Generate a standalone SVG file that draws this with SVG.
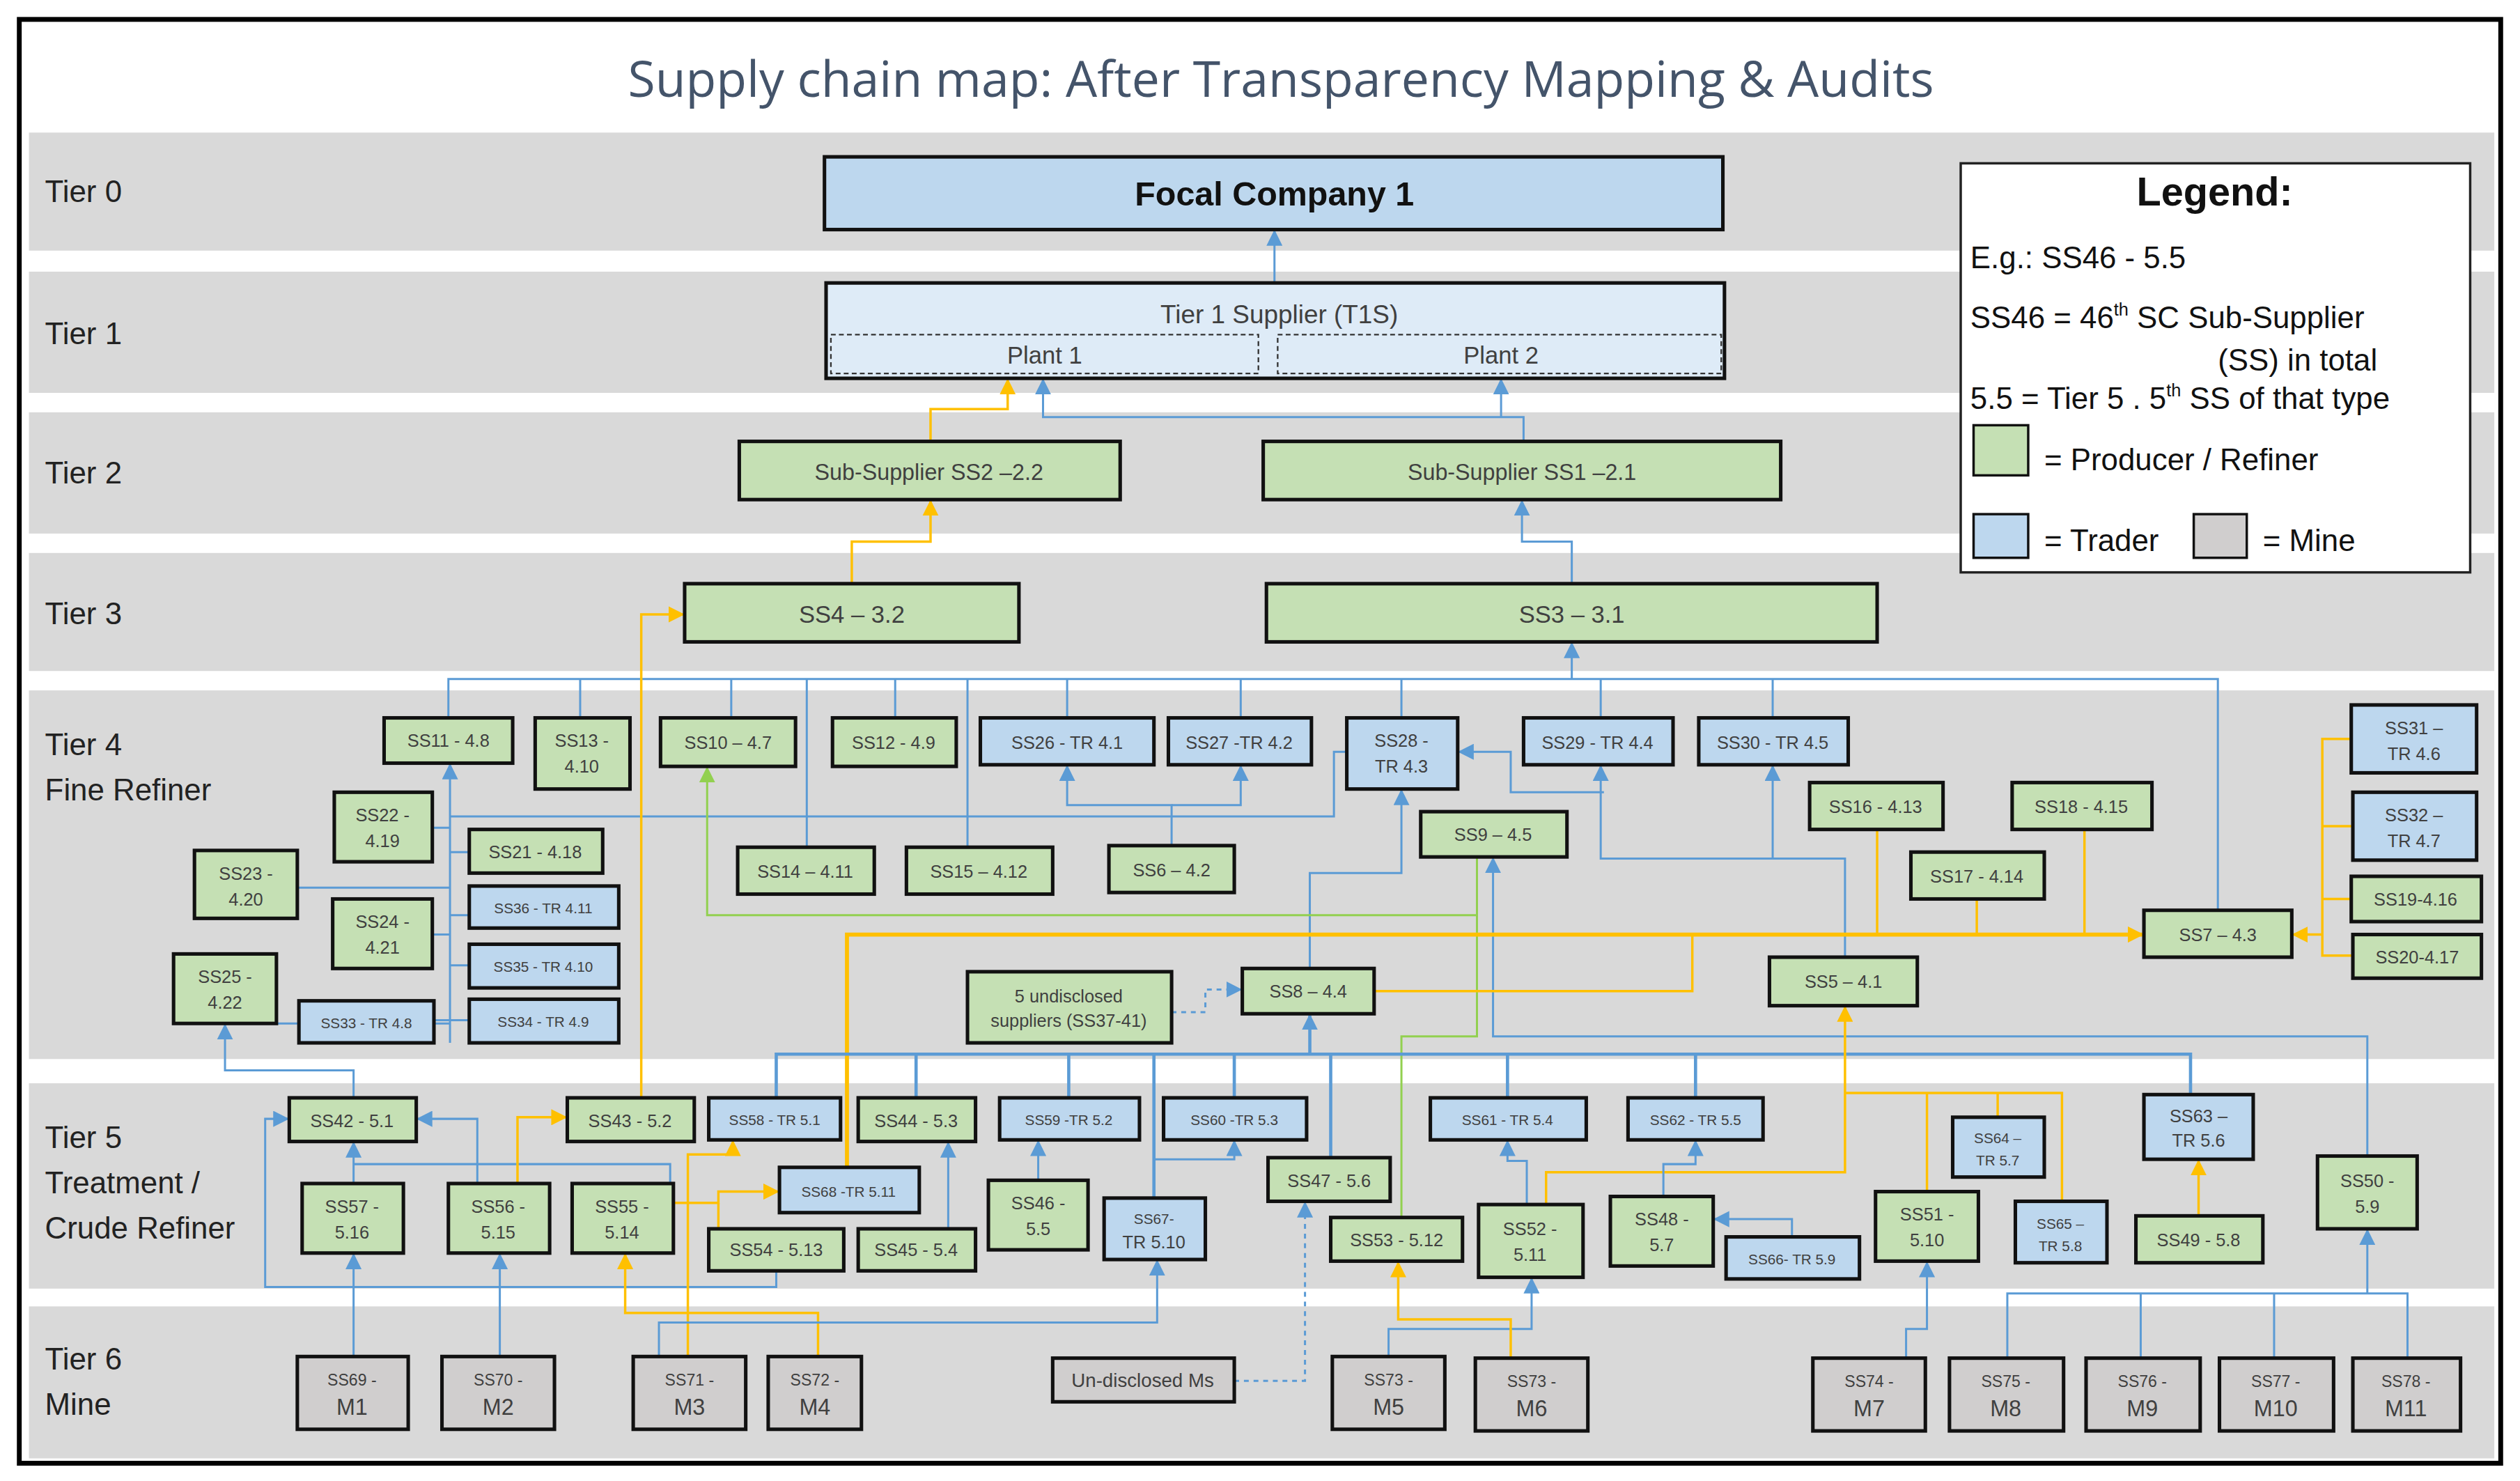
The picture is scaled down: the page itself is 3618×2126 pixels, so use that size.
<svg xmlns="http://www.w3.org/2000/svg" width="3618" height="2126" viewBox="0 0 3618 2126">
<style>
.band{fill:#D9D9D9}
.tl{font-family:"Liberation Sans",Arial,sans-serif;font-size:19px;fill:#222}
.g rect{fill:#C5E0B4;stroke:#111;stroke-width:2.2}
.b rect{fill:#BDD7EE;stroke:#111;stroke-width:2.2}
.m rect{fill:#D0CECE;stroke:#111;stroke-width:2.2}
.n text{font-family:"Liberation Sans",Arial,sans-serif;font-size:11px;fill:#404040;text-anchor:middle}
.s text{font-size:9px}
.m text .big{font-size:14px}
.cb{fill:none;stroke:#5B9BD5;stroke-width:1.3}
.cy{fill:none;stroke:#FFC000;stroke-width:1.5}
.cg{fill:none;stroke:#92D050;stroke-width:1.3}
.d{stroke-dasharray:3 3}
.lg{font-family:"Liberation Sans",Arial,sans-serif;font-size:19px;fill:#111}
</style>
<defs>
<marker id="ab" markerWidth="10" markerHeight="10" refX="9" refY="5" orient="auto" markerUnits="userSpaceOnUse"><path d="M0,0 L10,5 L0,10 Z" fill="#5B9BD5"/></marker>
<marker id="ay" markerWidth="10" markerHeight="10" refX="9" refY="5" orient="auto" markerUnits="userSpaceOnUse"><path d="M0,0 L10,5 L0,10 Z" fill="#FFC000"/></marker>
<marker id="ag" markerWidth="10" markerHeight="10" refX="9" refY="5" orient="auto" markerUnits="userSpaceOnUse"><path d="M0,0 L10,5 L0,10 Z" fill="#92D050"/></marker>
</defs>
<rect width="3618" height="2126" fill="#fff"/>
<g transform="scale(2.3074 2.3210)">
<rect x="12" y="12" width="1544" height="893" fill="#fff" stroke="#000" stroke-width="3"/>
<text x="797" y="60" text-anchor="middle" font-family="'Open Sans','Liberation Sans',sans-serif" font-size="31" fill="#44546A">Supply chain map: After Transparency Mapping &amp; Audits</text>
<g id="bands">
<rect class="band" x="18" y="82" width="1534" height="73"/>
<rect class="band" x="18" y="168" width="1534" height="75"/>
<rect class="band" x="18" y="255" width="1534" height="75"/>
<rect class="band" x="18" y="342" width="1534" height="73"/>
<rect class="band" x="18" y="427" width="1534" height="228"/>
<rect class="band" x="18" y="670" width="1534" height="127"/>
<rect class="band" x="18" y="808" width="1534" height="94"/>
<text class="tl" x="28" y="125">Tier 0</text>
<text class="tl" x="28" y="213">Tier 1</text>
<text class="tl" x="28" y="299">Tier 2</text>
<text class="tl" x="28" y="386">Tier 3</text>
<text class="tl" x="28" y="467">Tier 4</text>
<text class="tl" x="28" y="495">Fine Refiner</text>
<text class="tl" x="28" y="710">Tier 5</text>
<text class="tl" x="28" y="738">Treatment /</text>
<text class="tl" x="28" y="766">Crude Refiner</text>
<text class="tl" x="28" y="847">Tier 6</text>
<text class="tl" x="28" y="875">Mine</text>
</g>
<g id="connectors">
<path class="cb" d="M793,175 V143" marker-end="url(#ab)"/>
<path class="cy" d="M579,273 V253 H627 V235" marker-end="url(#ay)"/>
<path class="cb" d="M948,273 V258 H649 V235" marker-end="url(#ab)"/>
<path class="cb" d="M934,258 V235" marker-end="url(#ab)"/>
<path class="cy" d="M530,361 V335 H579 V310" marker-end="url(#ay)"/>
<path class="cb" d="M978,361 V335 H947 V310" marker-end="url(#ab)"/>
<path class="cb" d="M279,444 V420 H1380 V563"/>
<path class="cb" d="M978,420 V398" marker-end="url(#ab)"/>
<path class="cb" d="M361,420 V444 M455,420 V444 M502,420 V524 M557,420 V444 M602,420 V524 M664,420 V444 M772,420 V444 M872,420 V444 M996,420 V444 M1103,420 V444"/>
<path class="cb" d="M280,645 V473" marker-end="url(#ab)"/>
<path class="cb" d="M269,512 H280 M280,527 H292 M185,549 H280 M280,566 H292 M269,578 H280 M280,597 H292 M172,633 H280 M270,631 H292"/>
<path class="cb" d="M280,505 H830 V465 H838"/>
<path class="cb" d="M729,523 V498 H664 V474" marker-end="url(#ab)"/>
<path class="cb" d="M729,498 H772 V474" marker-end="url(#ab)"/>
<path class="cb" d="M815,599 V540 H872 V489" marker-end="url(#ab)"/>
<path class="cb" d="M998,490 H940 V465 H908" marker-end="url(#ab)"/>
<path class="cb" d="M1148,592 V531 H996 V474" marker-end="url(#ab)"/>
<path class="cb" d="M1103,531 V474" marker-end="url(#ab)"/>
<path class="cg" d="M919,530 V641 H872 V753"/>
<path class="cg" d="M919,566 H440 V475" marker-end="url(#ag)"/>
<path class="cb" d="M1473,715 V641 H929 V531" marker-end="url(#ab)"/>
<path class="cy" d="M527,722 V578 H1333" marker-end="url(#ay)" style="stroke-width:2.5"/>
<path class="cy" d="M855,613 H1053 V578 M1168,513 V578 M1230,556 V578 M1297,513 V578"/>
<path class="cy" d="M1463,457 H1445 V591 H1464 M1445,511 H1464 M1445,556 H1463"/>
<path class="cy" d="M1445,578 H1427" marker-end="url(#ay)"/>
<path class="cy" d="M399,679 V380 H425" marker-end="url(#ay)"/>
<path class="cb d" d="M729,626 H750 V612 H772" marker-end="url(#ab)"/>
<path class="cb" d="M483,679 V652 H1363 V677 M570,652 V679 M665,652 V679 M768,652 V679 M828,652 V716 M938,652 V679 M1055,652 V679 M718,652 V741" style="stroke-width:2"/>
<path class="cb" d="M815,652 V628" marker-end="url(#ab)" style="stroke-width:2"/>
<path class="cb" d="M718,717 H768 V706" marker-end="url(#ab)"/>
<path class="cb" d="M220,732 V707" marker-end="url(#ab)"/>
<path class="cb" d="M220,720 H417 V732"/>
<path class="cb" d="M297,732 V692 H260" marker-end="url(#ab)"/>
<path class="cy" d="M322,732 V691 H352" marker-end="url(#ay)"/>
<path class="cb" d="M483,786 V796 H165 V692 H179" marker-end="url(#ab)"/>
<path class="cb" d="M220,679 V662 H140 V634" marker-end="url(#ab)"/>
<path class="cy" d="M419,744 H447 V737 H484" marker-end="url(#ay)"/>
<path class="cy" d="M447,760 V744"/>
<path class="cy" d="M428,839 V714 H456 V706" marker-end="url(#ay)"/>
<path class="cy" d="M509,839 V812 H389 V776" marker-end="url(#ay)"/>
<path class="cb" d="M410,839 V818 H720 V780" marker-end="url(#ab)"/>
<path class="cb" d="M220,839 V776" marker-end="url(#ab)"/>
<path class="cb" d="M311,839 V776" marker-end="url(#ab)"/>
<path class="cb" d="M590,760 V707" marker-end="url(#ab)"/>
<path class="cb" d="M646,730 V706" marker-end="url(#ab)"/>
<path class="cb d" d="M768,854 H812 V744" marker-end="url(#ab)"/>
<path class="cb" d="M864,839 V822 H953 V791" marker-end="url(#ab)"/>
<path class="cy" d="M940,840 V816 H870 V781" marker-end="url(#ay)"/>
<path class="cb" d="M950,745 V718 H938 V706" marker-end="url(#ab)"/>
<path class="cy" d="M962,745 V725 H1148 V623" marker-end="url(#ay)"/>
<path class="cy" d="M1148,676 H1283 V743 M1199,676 V737 M1243,676 V691"/>
<path class="cb" d="M1035,740 V720 H1055 V706" marker-end="url(#ab)"/>
<path class="cb" d="M1115,765 V754 H1067" marker-end="url(#ab)"/>
<path class="cy" d="M1368,752 V718" marker-end="url(#ay)"/>
<path class="cb" d="M1186,840 V822 H1199 V781" marker-end="url(#ab)"/>
<path class="cb" d="M1249,840 V800 H1498 V840 M1332,800 V840 M1415,800 V840"/>
<path class="cb" d="M1473,800 V761" marker-end="url(#ab)"/>
</g>
<g id="focal" class="n b"><rect x="513" y="97" width="559" height="45"/><text x="793" y="127" style="font-size:21px;font-weight:bold;fill:#111">Focal Company 1</text></g>
<g id="t1s" class="n"><rect x="514" y="175" width="559" height="59" fill="#DEEBF7" stroke="#111" stroke-width="2.2"/><text x="796" y="200" style="font-size:16px;fill:#404040">Tier 1 Supplier (T1S)</text>
<rect x="517" y="207" width="266" height="24" fill="none" stroke="#333" stroke-width="1" stroke-dasharray="3 2"/><rect x="795" y="207" width="276" height="24" fill="none" stroke="#333" stroke-width="1" stroke-dasharray="3 2"/>
<text x="650" y="225" style="font-size:15px">Plant 1</text><text x="934" y="225" style="font-size:15px">Plant 2</text></g>
<g id="ss2" class="n g"><rect x="460" y="273" width="237" height="36"/><text x="578" y="297" style="font-size:14px">Sub-Supplier SS2 –2.2</text></g>
<g id="ss1" class="n g"><rect x="786" y="273" width="322" height="36"/><text x="947" y="297" style="font-size:14px">Sub-Supplier SS1 –2.1</text></g>
<g id="ss4" class="n g"><rect x="426" y="361" width="208" height="36"/><text x="530" y="385" style="font-size:15px">SS4 – 3.2</text></g>
<g id="ss3" class="n g"><rect x="788" y="361" width="380" height="36"/><text x="978" y="385" style="font-size:15px">SS3 – 3.1</text></g>
<g id="ss11" class="n g"><rect x="239" y="444" width="80" height="28"/><text x="279" y="462">SS11 - 4.8</text></g>
<g id="ss13" class="n g"><rect x="333" y="444" width="59" height="44"/><text x="362" y="462">SS13 -</text><text x="362" y="478">4.10</text></g>
<g id="ss10" class="n g"><rect x="411" y="444" width="84" height="30"/><text x="453" y="463">SS10 – 4.7</text></g>
<g id="ss12" class="n g"><rect x="518" y="444" width="77" height="30"/><text x="556" y="463">SS12 - 4.9</text></g>
<g id="ss26" class="n b"><rect x="610" y="444" width="108" height="29"/><text x="664" y="463">SS26 - TR 4.1</text></g>
<g id="ss27" class="n b"><rect x="727" y="444" width="89" height="29"/><text x="771" y="463">SS27 -TR 4.2</text></g>
<g id="ss28" class="n b"><rect x="838" y="444" width="69" height="44"/><text x="872" y="462">SS28 -</text><text x="872" y="478">TR 4.3</text></g>
<g id="ss29" class="n b"><rect x="948" y="444" width="93" height="29"/><text x="994" y="463">SS29 - TR 4.4</text></g>
<g id="ss30" class="n b"><rect x="1057" y="444" width="93" height="29"/><text x="1103" y="463">SS30 - TR 4.5</text></g>
<g id="ss22" class="n g"><rect x="208" y="490" width="61" height="43"/><text x="238" y="508">SS22 -</text><text x="238" y="524">4.19</text></g>
<g id="ss21" class="n g"><rect x="292" y="513" width="83" height="27"/><text x="333" y="531">SS21 - 4.18</text></g>
<g id="ss23" class="n g"><rect x="121" y="526" width="64" height="42"/><text x="153" y="544">SS23 -</text><text x="153" y="560">4.20</text></g>
<g id="ss36" class="n b s"><rect x="292" y="548" width="93" height="26"/><text x="338" y="565">SS36 - TR 4.11</text></g>
<g id="ss24" class="n g"><rect x="207" y="556" width="62" height="43"/><text x="238" y="574">SS24 -</text><text x="238" y="590">4.21</text></g>
<g id="ss35" class="n b s"><rect x="292" y="584" width="93" height="27"/><text x="338" y="601">SS35 - TR 4.10</text></g>
<g id="ss25" class="n g"><rect x="108" y="590" width="64" height="43"/><text x="140" y="608">SS25 -</text><text x="140" y="624">4.22</text></g>
<g id="ss33" class="n b s"><rect x="186" y="619" width="84" height="26"/><text x="228" y="636">SS33 - TR 4.8</text></g>
<g id="ss34" class="n b s"><rect x="292" y="618" width="93" height="27"/><text x="338" y="635">SS34 - TR 4.9</text></g>
<g id="ss14" class="n g"><rect x="459" y="524" width="85" height="29"/><text x="501" y="543">SS14 – 4.11</text></g>
<g id="ss15" class="n g"><rect x="564" y="524" width="91" height="29"/><text x="609" y="543">SS15 – 4.12</text></g>
<g id="ss6" class="n g"><rect x="690" y="523" width="78" height="29"/><text x="729" y="542">SS6 – 4.2</text></g>
<g id="ss9" class="n g"><rect x="884" y="502" width="91" height="28"/><text x="929" y="520">SS9 – 4.5</text></g>
<g id="ss16" class="n g"><rect x="1126" y="484" width="83" height="29"/><text x="1167" y="503">SS16 - 4.13</text></g>
<g id="ss18" class="n g"><rect x="1252" y="484" width="87" height="29"/><text x="1295" y="503">SS18 - 4.15</text></g>
<g id="ss17" class="n g"><rect x="1189" y="527" width="83" height="29"/><text x="1230" y="546">SS17 - 4.14</text></g>
<g id="ss7" class="n g"><rect x="1334" y="563" width="92" height="29"/><text x="1380" y="582">SS7 – 4.3</text></g>
<g id="ss31" class="n b"><rect x="1463" y="436" width="78" height="42"/><text x="1502" y="454">SS31 –</text><text x="1502" y="470">TR 4.6</text></g>
<g id="ss32" class="n b"><rect x="1464" y="490" width="77" height="42"/><text x="1502" y="508">SS32 –</text><text x="1502" y="524">TR 4.7</text></g>
<g id="ss19" class="n g"><rect x="1463" y="542" width="81" height="28"/><text x="1503" y="560">SS19-4.16</text></g>
<g id="ss20" class="n g"><rect x="1464" y="578" width="80" height="27"/><text x="1504" y="596">SS20-4.17</text></g>
<g id="ss5" class="n g"><rect x="1101" y="592" width="92" height="30"/><text x="1147" y="611">SS5 – 4.1</text></g>
<g id="ss8" class="n g"><rect x="773" y="599" width="82" height="28"/><text x="814" y="617">SS8 – 4.4</text></g>
<g id="ss37" class="n g"><rect x="602" y="601" width="127" height="44"/><text x="665" y="620">5 undisclosed</text><text x="665" y="635">suppliers (SS37-41)</text></g>
<g id="ss42" class="n g"><rect x="180" y="679" width="79" height="27"/><text x="219" y="697">SS42 - 5.1</text></g>
<g id="ss43" class="n g"><rect x="353" y="679" width="79" height="27"/><text x="392" y="697">SS43 - 5.2</text></g>
<g id="ss58" class="n b s"><rect x="441" y="679" width="82" height="26"/><text x="482" y="696">SS58 - TR 5.1</text></g>
<g id="ss44" class="n g"><rect x="534" y="679" width="73" height="27"/><text x="570" y="697">SS44 - 5.3</text></g>
<g id="ss59" class="n b s"><rect x="622" y="679" width="87" height="26"/><text x="665" y="696">SS59 -TR 5.2</text></g>
<g id="ss60" class="n b s"><rect x="724" y="679" width="89" height="26"/><text x="768" y="696">SS60 -TR 5.3</text></g>
<g id="ss61" class="n b s"><rect x="890" y="679" width="97" height="26"/><text x="938" y="696">SS61 - TR 5.4</text></g>
<g id="ss62" class="n b s"><rect x="1013" y="679" width="84" height="26"/><text x="1055" y="696">SS62 - TR 5.5</text></g>
<g id="ss68" class="n b s"><rect x="485" y="722" width="87" height="28"/><text x="528" y="740">SS68 -TR 5.11</text></g>
<g id="ss57" class="n g"><rect x="188" y="732" width="63" height="43"/><text x="219" y="750">SS57 -</text><text x="219" y="766">5.16</text></g>
<g id="ss56" class="n g"><rect x="279" y="732" width="63" height="43"/><text x="310" y="750">SS56 -</text><text x="310" y="766">5.15</text></g>
<g id="ss55" class="n g"><rect x="356" y="732" width="63" height="43"/><text x="387" y="750">SS55 -</text><text x="387" y="766">5.14</text></g>
<g id="ss54" class="n g"><rect x="441" y="760" width="84" height="26"/><text x="483" y="777">SS54 - 5.13</text></g>
<g id="ss45" class="n g"><rect x="534" y="760" width="73" height="26"/><text x="570" y="777">SS45 - 5.4</text></g>
<g id="ss46" class="n g"><rect x="615" y="730" width="62" height="43"/><text x="646" y="748">SS46 -</text><text x="646" y="764">5.5</text></g>
<g id="ss67" class="n b s"><rect x="687" y="741" width="63" height="38"/><text x="718" y="757">SS67-</text><text x="718" y="772" style="font-size:11px">TR 5.10</text></g>
<g id="ss47" class="n g"><rect x="789" y="716" width="76" height="27"/><text x="827" y="734">SS47 - 5.6</text></g>
<g id="ss53" class="n g"><rect x="828" y="753" width="82" height="27"/><text x="869" y="771">SS53 - 5.12</text></g>
<g id="ss52" class="n g"><rect x="920" y="745" width="65" height="45"/><text x="952" y="764">SS52 -</text><text x="952" y="780">5.11</text></g>
<g id="ss48" class="n g"><rect x="1002" y="740" width="64" height="43"/><text x="1034" y="758">SS48 -</text><text x="1034" y="774">5.7</text></g>
<g id="ss66" class="n b s"><rect x="1074" y="765" width="83" height="26"/><text x="1115" y="782">SS66- TR 5.9</text></g>
<g id="ss64" class="n b s"><rect x="1215" y="691" width="57" height="37"/><text x="1243" y="707">SS64 –</text><text x="1243" y="721">TR 5.7</text></g>
<g id="ss51" class="n g"><rect x="1167" y="737" width="64" height="43"/><text x="1199" y="755">SS51 -</text><text x="1199" y="771">5.10</text></g>
<g id="ss65" class="n b s"><rect x="1254" y="743" width="57" height="38"/><text x="1282" y="760">SS65 –</text><text x="1282" y="774">TR 5.8</text></g>
<g id="ss63" class="n b"><rect x="1334" y="677" width="68" height="40"/><text x="1368" y="694">SS63 –</text><text x="1368" y="709">TR 5.6</text></g>
<g id="ss49" class="n g"><rect x="1329" y="752" width="79" height="29"/><text x="1368" y="771">SS49 - 5.8</text></g>
<g id="ss50" class="n g"><rect x="1442" y="715" width="62" height="45"/><text x="1473" y="734">SS50 -</text><text x="1473" y="750">5.9</text></g>
<g id="m1" class="n m"><rect x="185" y="839" width="69" height="45"/><text x="219" y="857" style="font-size:10px">SS69 -</text><text x="219" y="875" style="font-size:14px">M1</text></g>
<g id="m2" class="n m"><rect x="275" y="839" width="70" height="45"/><text x="310" y="857" style="font-size:10px">SS70 -</text><text x="310" y="875" style="font-size:14px">M2</text></g>
<g id="m3" class="n m"><rect x="394" y="839" width="70" height="45"/><text x="429" y="857" style="font-size:10px">SS71 -</text><text x="429" y="875" style="font-size:14px">M3</text></g>
<g id="m4" class="n m"><rect x="478" y="839" width="58" height="45"/><text x="507" y="857" style="font-size:10px">SS72 -</text><text x="507" y="875" style="font-size:14px">M4</text></g>
<g id="mu" class="n m"><rect x="655" y="840" width="113" height="27"/><text x="711" y="858" style="font-size:12px">Un-disclosed Ms</text></g>
<g id="m5" class="n m"><rect x="829" y="839" width="70" height="45"/><text x="864" y="857" style="font-size:10px">SS73 -</text><text x="864" y="875" style="font-size:14px">M5</text></g>
<g id="m6" class="n m"><rect x="918" y="840" width="70" height="45"/><text x="953" y="858" style="font-size:10px">SS73 -</text><text x="953" y="876" style="font-size:14px">M6</text></g>
<g id="m7" class="n m"><rect x="1128" y="840" width="70" height="45"/><text x="1163" y="858" style="font-size:10px">SS74 -</text><text x="1163" y="876" style="font-size:14px">M7</text></g>
<g id="m8" class="n m"><rect x="1213" y="840" width="71" height="45"/><text x="1248" y="858" style="font-size:10px">SS75 -</text><text x="1248" y="876" style="font-size:14px">M8</text></g>
<g id="m9" class="n m"><rect x="1298" y="840" width="71" height="45"/><text x="1333" y="858" style="font-size:10px">SS76 -</text><text x="1333" y="876" style="font-size:14px">M9</text></g>
<g id="m10" class="n m"><rect x="1381" y="840" width="71" height="45"/><text x="1416" y="858" style="font-size:10px">SS77 -</text><text x="1416" y="876" style="font-size:14px">M10</text></g>
<g id="m11" class="n m"><rect x="1464" y="840" width="67" height="45"/><text x="1497" y="858" style="font-size:10px">SS78 -</text><text x="1497" y="876" style="font-size:14px">M11</text></g>
<g id="legend">
<rect x="1220" y="101" width="317" height="253" fill="#fff" stroke="#222" stroke-width="1.5"/>
<text class="lg" x="1378" y="127" text-anchor="middle" style="font-size:25px;font-weight:bold">Legend:</text>
<text class="lg" x="1226" y="166">E.g.: SS46 - 5.5</text>
<text class="lg" x="1226" y="203">SS46 = 46<tspan font-size="11" dy="-8">th</tspan><tspan dy="8"> SC Sub-Supplier</tspan></text>
<text class="lg" x="1380" y="229">(SS) in total</text>
<text class="lg" x="1226" y="253">5.5 = Tier 5 . 5<tspan font-size="11" dy="-8">th</tspan><tspan dy="8"> SS of that type</tspan></text>
<rect x="1228" y="263" width="34" height="31" fill="#C5E0B4" stroke="#111" stroke-width="1.5"/>
<text class="lg" x="1272" y="291">= Producer / Refiner</text>
<rect x="1228" y="318" width="34" height="27" fill="#BDD7EE" stroke="#111" stroke-width="1.5"/>
<text class="lg" x="1272" y="341">= Trader</text>
<rect x="1365" y="318" width="33" height="27" fill="#D0CECE" stroke="#111" stroke-width="1.5"/>
<text class="lg" x="1408" y="341">= Mine</text>
</g>
</g>
</svg>
